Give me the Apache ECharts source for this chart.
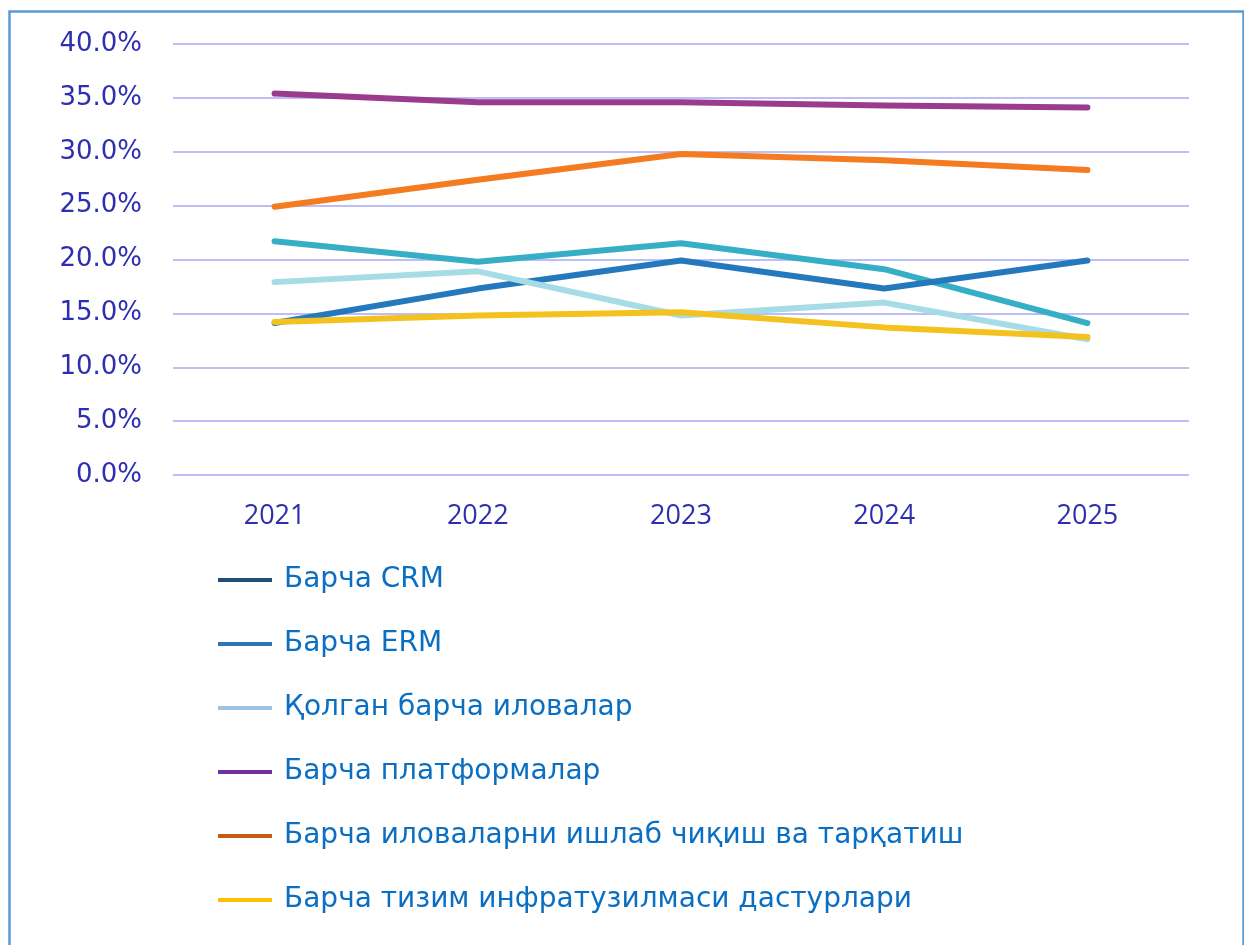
<!DOCTYPE html>
<html>
<head>
<meta charset="utf-8">
<script src="https://cdn.jsdelivr.net/npm/echarts@6/dist/echarts.min.js"></script>
<style>
  html, body { margin: 0; padding: 0; background: #fff; }
  #main { width: 1244px; height: 945px; }
</style>
</head>
<body>
<div id="main"></div>
<script>
    var myChart = echarts.init(document.getElementById('main'));

    // йиллар
    var years = ['2021', '2022', '2023', '2024', '2025'];

    // серия номлари
    var names = [
        'Барча CRM',
        'Барча ERM',
        'Қолган барча иловалар',
        'Барча платформалар',
        'Барча иловаларни ишлаб чиқиш ва тарқатиш',
        'Барча тизим инфратузилмаси дастурлари'
    ];

    // қийматлар (%)
    var crm = [21.7, 19.8, 21.5, 19.1, 14.1];
    var erm = [14.1, 17.3, 19.9, 17.3, 19.9];
    var otherApps = [17.9, 18.9, 14.8, 16.0, 12.6];
    var platforms = [35.4, 34.6, 34.6, 34.3, 34.1];
    var devDeploy = [24.9, 27.4, 29.8, 29.2, 28.3];
    var infra = [14.2, 14.8, 15.1, 13.7, 12.8];

    var seriesData = [crm, erm, otherApps, platforms, devDeploy, infra];

    // чизиқ ранглари
    var lineColors = ['#36AFC6', '#2479BD', '#A6DCE5', '#9B3B8E', '#F47B20', '#F4C21F'];
    // легенда белгилари ранглари
    var legendColors = ['#1F4E79', '#2E75B6', '#9DC3E6', '#7030A0', '#C55A11', '#FFC000'];

    var option = {
        animation: false,
        grid: {
            left: 173,
            right: 55,
            top: 44,
            height: 431
        },
        legend: {
            orient: 'vertical',
            left: 213,
            top: 558,
            icon: 'rect',
            itemWidth: 54,
            itemHeight: 4,
            itemGap: 30,
            textStyle: {
                fontFamily: 'DejaVu Sans',
                fontSize: 28,
                color: '#0A6FC2',
                lineHeight: 34,
                padding: [0, 0, 0, 7]
            },
            data: names.map(function (n, i) {
                return { name: n, itemStyle: { color: legendColors[i] } };
            })
        },
        xAxis: {
            type: 'category',
            data: years,
            boundaryGap: true,
            axisLine: { show: false },
            axisTick: { show: false },
            axisLabel: {
                margin: 28,
                fontFamily: 'Open Sans',
                fontSize: 27,
                color: '#2E2EB0'
            }
        },
        yAxis: {
            type: 'value',
            min: 0,
            max: 40,
            interval: 5,
            axisLine: { show: false },
            axisTick: { show: false },
            axisLabel: {
                margin: 31,
                fontFamily: 'DejaVu Sans',
                fontSize: 26,
                color: '#2E2EB0',
                formatter: function (v) { return v.toFixed(1) + '%'; }
            },
            splitLine: {
                lineStyle: { color: '#BDBDF7', width: 2 }
            }
        },
        graphic: [{
            type: 'rect',
            left: 7,
            top: 9,
            shape: { width: 1234, height: 960 },
            style: { fill: 'none', stroke: '#5B9BD5', lineWidth: 2.5 },
            silent: true
        }],
        series: names.map(function (n, i) {
            return {
                name: n,
                type: 'line',
                data: seriesData[i],
                symbol: 'none',
                smooth: false,
                lineStyle: { color: lineColors[i], width: 6, cap: 'round', join: 'round' },
                itemStyle: { color: lineColors[i] }
            };
        })
    };

    myChart.setOption(option);

    window.addEventListener('resize', function () {
        myChart.resize();
    });
</script>
</body>
</html>
